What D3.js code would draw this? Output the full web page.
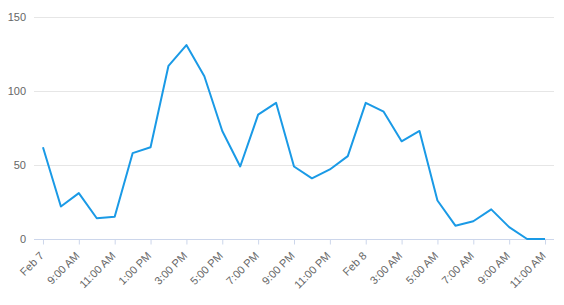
<!DOCTYPE html>
<html>
<head>
<meta charset="utf-8">
<script src="https://cdn.jsdelivr.net/npm/d3@7"></script>
<style>
  html, body { margin: 0; padding: 0; background: #fff; }
  text { font-family: Arial, "Liberation Sans", sans-serif; }
</style>
</head>
<body>
<div id="chart"></div>
<script>
// hourly counts, Feb 7 07:00 -> Feb 8 11:00
const values = [62, 22, 31, 14, 15, 58, 62, 117, 131, 110, 73, 49, 84, 92, 49, 41, 47, 56, 92, 86, 66, 73, 26, 9, 12, 20, 8, 0, 0]
const tickLabels = ['Feb 7', '9:00 AM', '11:00 AM', '1:00 PM', '3:00 PM', '5:00 PM', '7:00 PM', '9:00 PM',
  '11:00 PM', 'Feb 8', '3:00 AM', '5:00 AM', '7:00 AM', '9:00 AM', '11:00 AM']
const yTicks = [0, 50, 100, 150]

const start = new Date(2024, 1, 7, 7)
const hour = 3600 * 1000
const data = values.map((v, i) => ({ t: new Date(+start + i * hour), v }))
const tickDates = tickLabels.map((_, i) => new Date(+start + i * 2 * hour))

const width = 564, height = 305
const margin = { top: 17, right: 10, bottom: 66, left: 34 }
const font = 'Arial, "Liberation Sans", sans-serif'

const svg = d3.select('#chart').append('svg')
  .attr('width', width).attr('height', height)

const x = d3.scaleTime()
  .domain([new Date(+start - hour / 2), new Date(+data[data.length - 1].t + hour / 2)])
  .range([margin.left, width - margin.right])

const y = d3.scaleLinear()
  .domain([0, 150])
  .range([height - margin.bottom, margin.top])

// grid
svg.append('g')
  .selectAll('line')
  .data(yTicks.filter(d => d > 0))
  .join('line')
  .attr('x1', margin.left).attr('x2', width - margin.right)
  .attr('y1', d => Math.round(y(d)) + 0.5).attr('y2', d => Math.round(y(d)) + 0.5)
  .attr('stroke', '#e6e6e6')

// y labels
svg.append('g')
  .selectAll('text')
  .data(yTicks)
  .join('text')
  .attr('x', 26)
  .attr('y', d => y(d) + 4)
  .attr('text-anchor', 'end')
  .attr('fill', '#666')
  .attr('font-size', 11)
  .text(d => d)

// x axis
const xAxis = svg.append('g')
  .attr('transform', 'translate(0,' + (Math.round(y(0)) + 0.5) + ')')
  .call(d3.axisBottom(x)
    .tickValues(tickDates)
    .tickSize(5)
    .tickFormat((d, i) => tickLabels[i]))
xAxis.select('.domain').attr('stroke', '#ccd6eb').attr('d', 'M' + margin.left + ',0H' + (width - margin.right))
xAxis.selectAll('.tick line').attr('stroke', '#ccd6eb')
xAxis.selectAll('.tick text')
  .attr('fill', '#666')
  .attr('font-size', 11)
  .attr('font-family', font)
  .attr('text-anchor', 'end')
  .attr('dy', null)
  .attr('y', 0)
  .attr('transform', 'translate(1,17) rotate(-45)')

// line
svg.append('path')
  .datum(data)
  .attr('fill', 'none')
  .attr('stroke', '#1a9ae6')
  .attr('stroke-width', 2)
  .attr('stroke-linejoin', 'round')
  .attr('d', d3.line().x(d => x(d.t)).y(d => y(d.v)))
</script>
</body>
</html>
